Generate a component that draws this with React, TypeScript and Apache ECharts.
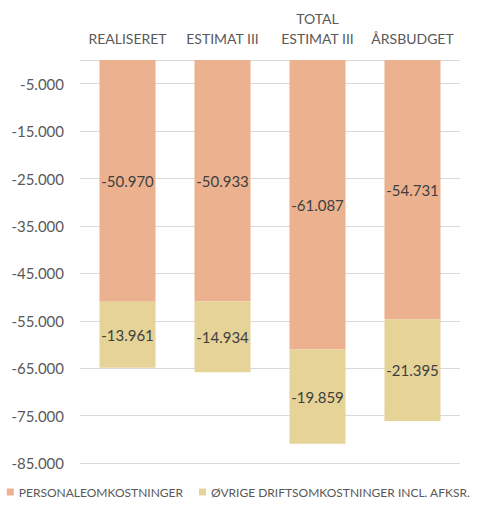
import React, { useEffect, useRef } from "react";
import * as echarts from "echarts";

const categories = ["REALISERET", "ESTIMAT III", "TOTAL\nESTIMAT III", "ÅRSBUDGET"];
const personale = [-50970, -50933, -61087, -54731];
const ovrige = [-13961, -14934, -19859, -21395];
const seriesNames = ["PERSONALEOMKOSTNINGER", "ØVRIGE DRIFTSOMKOSTNINGER INCL. AFKSR."];

const fmt = (v: number) => {
  const s = Math.abs(Math.round(v)).toString().replace(/\B(?=(\d{3})+(?!\d))/g, ".");
  return (v < 0 ? "-" : "") + s;
};

const FONT = "Lato, 'Open Sans', sans-serif";

export default function App() {
  const ref = useRef<HTMLDivElement>(null);
  useEffect(() => {
    document.body.style.margin = "0";
    const chart = echarts.init(ref.current!, null, { renderer: "svg" });
    chart.setOption({
      animation: false,
      textStyle: { fontFamily: FONT },
      grid: { left: 80, right: 17, top: 60, bottom: 42, containLabel: false },
      legend: {
        bottom: 2,
        left: "center",
        icon: "rect",
        itemWidth: 7,
        itemHeight: 7,
        itemGap: 16,
        textStyle: { color: "#595959", fontSize: 12, fontFamily: FONT },
        data: seriesNames,
      },
      xAxis: {
        type: "category",
        position: "top",
        data: categories,
        axisLine: { show: false },
        axisTick: { show: false },
        axisLabel: {
          interval: 0,
          hideOverlap: false,
          color: "#595959",
          fontSize: 14,
          margin: 12,
          lineHeight: 20,
          fontFamily: FONT,
        },
      },
      yAxis: {
        type: "value",
        min: -85000,
        max: 0,
        interval: 10000,
        axisLine: { show: false },
        axisTick: { show: false },
        splitLine: { lineStyle: { color: "#d9d9d9", width: 1 } },
        axisLabel: {
          color: "#595959",
          fontSize: 15,
          margin: 16,
          fontFamily: FONT,
          formatter: (v: number) => (v === 0 ? "" : fmt(v)),
        },
      },
      series: [
        {
          name: seriesNames[0],
          type: "bar",
          stack: "total",
          data: personale,
          barWidth: "59%",
          itemStyle: { color: "#ECB28F" },
          label: {
            show: true,
            position: "inside",
            color: "#404040",
            fontSize: 15,
            fontFamily: FONT,
            formatter: (p: any) => fmt(p.value),
          },
        },
        {
          name: seriesNames[1],
          type: "bar",
          stack: "total",
          data: ovrige,
          barWidth: "59%",
          itemStyle: { color: "#E6D397" },
          label: {
            show: true,
            position: "inside",
            color: "#404040",
            fontSize: 15,
            fontFamily: FONT,
            formatter: (p: any) => fmt(p.value),
          },
        },
      ],
    });
    return () => chart.dispose();
  }, []);
  return <div ref={ref} style={{ width: 477, height: 505 }} />;
}
